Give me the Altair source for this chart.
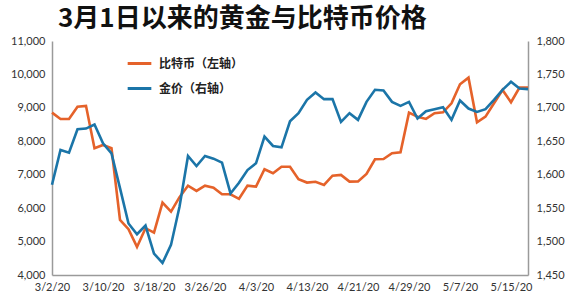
import altair as alt
import pandas as pd

# Trading-day categories (3/2/20 .. 5/19/20)
dates = [f"{d.month}/{d.day}/20" for d in pd.bdate_range("2020-03-02", "2020-05-19")]
tick_labels = ["3/2/20", "3/10/20", "3/18/20", "3/26/20", "4/3/20", "4/13/20",
               "4/21/20", "4/29/20", "5/7/20", "5/15/20"]

btc = [8857, 8668, 8668, 9036, 9060, 7792, 7890, 7792, 5648, 5370, 4840,
       5400, 5268, 6165, 5896, 6330, 6670, 6515, 6674, 6614, 6415, 6415, 6280,
       6674, 6644, 7164, 7045, 7240, 7240, 6864, 6765, 6790, 6694, 6970,
       6993, 6794, 6800, 7023, 7463, 7470, 7642, 7672, 8857, 8737, 8670,
       8838, 8868, 9137, 9705, 9903, 8569, 8737, 9137, 9535, 9167, 9604, 9604]
gold = [1585, 1637, 1633, 1668, 1669, 1675, 1647, 1632, 1580, 1527, 1511,
        1524, 1482, 1468, 1495, 1552, 1628, 1613, 1628, 1624, 1618, 1572, 1588,
        1607, 1617, 1657, 1643, 1641, 1680, 1692, 1712, 1723, 1713, 1713,
        1679, 1692, 1682, 1709, 1727, 1726, 1709, 1703, 1709, 1684, 1695,
        1698, 1701, 1682, 1711, 1699, 1694, 1698, 1712, 1727, 1739, 1729, 1728]

series_names = ["比特币（左轴）", "金价（右轴）"]
colors = ["#E5622A", "#1B75A8"]

df_btc = pd.DataFrame({"date": dates, "value": btc, "series": series_names[0]})
df_gold = pd.DataFrame({"date": dates, "value": gold, "series": series_names[1]})

x_enc = alt.X("date:O", sort=dates,
              scale=alt.Scale(type="point", padding=0),
              axis=alt.Axis(values=tick_labels, labelAngle=0, title=None,
                            labelPadding=6))
color_enc = alt.Color("series:N",
                      scale=alt.Scale(domain=series_names, range=colors),
                      legend=alt.Legend(title=None, orient="none",
                                        legendX=74, legendY=9,
                                        symbolType="stroke", symbolSize=560,
                                        symbolStrokeWidth=3, rowPadding=5,
                                        labelFont="Noto Sans CJK SC",
                                        labelFontSize=12, labelFontWeight="bold",
                                        labelColor="#222", labelOffset=6))

left = alt.Chart(df_btc).mark_line(strokeWidth=2.6).encode(
    x=x_enc,
    y=alt.Y("value:Q", scale=alt.Scale(domain=[4000, 11000], nice=False, zero=False),
            axis=alt.Axis(orient="left", values=list(range(4000, 11001, 1000)),
                          format=",.0f", title=None, labelPadding=7)),
    color=color_enc,
)
right = alt.Chart(df_gold).mark_line(strokeWidth=2.6).encode(
    x=x_enc,
    y=alt.Y("value:Q", scale=alt.Scale(domain=[1450, 1800], nice=False, zero=False),
            axis=alt.Axis(orient="right", values=list(range(1450, 1801, 50)),
                          format=",.0f", title=None, labelPadding=8)),
    color=color_enc,
)

chart = alt.layer(left, right).resolve_scale(y="independent").properties(
    width=476, height=234,
    autosize=alt.AutoSizeParams(type="none"),
    padding={"left": 52, "top": 41, "right": 55, "bottom": 24},
    title=alt.Title("3月1日以来的黄金与比特币价格", anchor="start", frame="group",
                    dx=6, dy=5,
                    font="Noto Sans CJK SC", fontSize=26, fontWeight="bold",
                    color="#111", offset=8),
).configure_view(strokeWidth=0).configure_axis(
    grid=False, ticks=False, domainColor="#9a9a9a", domainWidth=1.5,
    labelFont="Lato", labelFontSize=11, labelColor="#333",
)

chart.save("out.html", embed_options={"renderer": "svg", "actions": False})
